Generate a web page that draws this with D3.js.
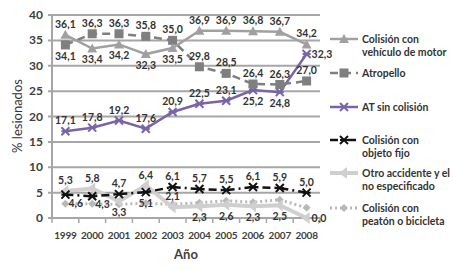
<!DOCTYPE html>
<html><head><meta charset="utf-8">
<script src="https://cdn.jsdelivr.net/npm/d3@7"></script>
<style>body{margin:0;background:#fff}svg{display:block;font-family:Lato,"Open Sans",sans-serif}</style>
</head><body><svg id="c" width="453" height="270"></svg>
<script>
const years = ["1999","2000","2001","2002","2003","2004","2005","2006","2007","2008"];
const vehiculo = [36.1,33.4,34.2,32.3,33.5,36.9,36.9,36.8,36.7,34.2];
const atropello = [34.1,36.3,36.3,35.8,35.0,29.8,28.5,26.4,26.3,27.0];
const sinColision = [17.1,17.8,19.2,17.6,20.9,22.5,23.1,25.2,24.8,32.3];
const objetoFijo = [4.6,4.3,4.7,5.1,6.1,5.7,5.5,6.1,5.9,5.0];
const otro = [5.3,5.8,3.3,6.4,2.1,2.3,2.6,2.3,2.5,0.0];
const peaton = [2.8,2.8,2.7,2.9,2.7,3.0,3.4,3.1,3.6,2.0];
const yTicks = [0,5,10,15,20,25,30,35,40];

// label placement (a=above, b=below, r=right, br=below-right)
const pos = {
  vehiculo:   ["a","b","b","b","b","a","a","a","a","a"],
  atropello:  ["b","a","a","a","a","a","a","a","a","a"],
  sinColision:["a","a","a","a","a","a","a","b","b","r"],
  objetoFijo: ["br","br","a","b","a","a","a","a","a","a"],
  otro:       ["a","a","b","a","a","b","b","b","b","r"]
};

const svg = d3.select("#c");
const X0=52, X1=320, Y0=218, Y1=15;
const x = d3.scaleBand().domain(years).range([X0,X1]);
const cx = d => x(d)+x.bandwidth()/2;
const y = d3.scaleLinear().domain([0,40]).range([Y0,Y1]);
const grid="#a6a6a6";

// gridlines
svg.append("g").selectAll("line").data(yTicks).join("line")
  .attr("x1",X0-4).attr("x2",X1).attr("y1",d=>y(d)).attr("y2",d=>y(d))
  .attr("stroke",grid).attr("stroke-width",2);
svg.append("line").attr("x1",X0).attr("x2",X0).attr("y1",Y1).attr("y2",Y0).attr("stroke",grid).attr("stroke-width",2);
// x ticks
svg.append("g").selectAll("line").data(d3.range(years.length+1)).join("line")
  .attr("x1",i=>X0+i*x.bandwidth()).attr("x2",i=>X0+i*x.bandwidth())
  .attr("y1",Y0).attr("y2",Y0+5).attr("stroke",grid).attr("stroke-width",1.5);
// y tick labels
svg.append("g").selectAll("text").data(yTicks).join("text")
  .attr("x",43).attr("y",d=>y(d)+4).attr("text-anchor","end")
  .attr("font-size",12).attr("font-weight",700).attr("fill","#404040").text(d=>d);
// x labels
svg.append("g").selectAll("text").data(years).join("text")
  .attr("x",d=>cx(d)).attr("y",239).attr("text-anchor","middle")
  .attr("font-size",10).attr("letter-spacing",-0.2).attr("font-weight",700).attr("fill","#404040").text(d=>d);
svg.append("text").attr("x",186).attr("y",259).attr("text-anchor","middle")
  .attr("font-size",13).attr("font-weight",700).attr("fill","#404040").text("Año");
svg.append("text").attr("transform","translate(22,116) rotate(-90)").attr("text-anchor","middle")
  .attr("font-size",13).attr("fill","#333").text("% lesionados");

function marker(g, type, px, py, color){
  if(type==="tri") g.append("path").attr("d",`M${px},${py-5}L${px+5},${py+4}L${px-5},${py+4}Z`).attr("fill",color);
  else if(type==="sq") g.append("rect").attr("x",px-4.5).attr("y",py-4.5).attr("width",9).attr("height",9).attr("fill",color);
  else if(type==="x"){ g.append("path").attr("d",`M${px-4},${py-4}L${px+4},${py+4}M${px+4},${py-4}L${px-4},${py+4}M${px-4},${py}L${px+4},${py}`).attr("stroke",color).attr("stroke-width",2);}
  else if(type==="arrow") g.append("path").attr("d",`M${px-5},${py}L${px+3},${py-6}L${px+3},${py+6}Z`).attr("fill",color);
  else if(type==="dia") g.append("path").attr("d",`M${px},${py-4}L${px+4},${py}L${px},${py+4}L${px-4},${py}Z`).attr("fill",color);
}

const series = [
  {key:"peaton",vals:peaton,color:"#b8b8b8",w:3,dash:"2,3",mk:"dia",name:["Colisión con","peatón o bicicleta"],ly:208},
  {key:"otro",vals:otro,color:"#cfcfcf",w:4,dash:null,mk:"arrow",name:["Otro accidente y el","no especificado"],ly:173},
  {key:"objetoFijo",vals:objetoFijo,color:"#111",w:2.5,dash:"8,4,2,4",mk:"x",name:["Colisión con","objeto fijo"],ly:140},
  {key:"sinColision",vals:sinColision,color:"#7a64a8",w:2.5,dash:null,mk:"x",name:["AT sin colisión"],ly:107},
  {key:"atropello",vals:atropello,color:"#7f7f7f",w:2.5,dash:"8,5",mk:"sq",name:["Atropello"],ly:73},
  {key:"vehiculo",vals:vehiculo,color:"#a0a0a0",w:2.5,dash:null,mk:"tri",name:["Colisión con","vehículo de motor"],ly:39}
];

const line = d3.line().x((d,i)=>cx(years[i])).y(d=>y(d));
series.forEach(s=>{
  const g = svg.append("g");
  g.append("path").attr("d",line(s.vals)).attr("fill","none").attr("stroke",s.color)
    .attr("stroke-width",s.w).attr("stroke-dasharray",s.dash);
  s.vals.forEach((v,i)=>marker(g,s.mk,cx(years[i]),y(v),s.color));
  // legend
  const lg = svg.append("g");
  lg.append("line").attr("x1",330).attr("x2",358).attr("y1",s.ly).attr("y2",s.ly)
    .attr("stroke",s.color).attr("stroke-width",s.w).attr("stroke-dasharray",s.dash);
  marker(lg,s.mk,344,s.ly,s.color);
  s.name.forEach((t,j)=>lg.append("text").attr("x",362).attr("y",s.ly+4+j*13)
    .attr("font-size",10.5).attr("font-weight",700).attr("fill","#333").text(t));
});

// data labels
const lab = {vehiculo,atropello,sinColision,objetoFijo,otro};
const fmt = v => v.toFixed(1).replace(".",",");
Object.keys(lab).forEach(k=>{
  lab[k].forEach((v,i)=>{
    const p = pos[k][i];
    let px = cx(years[i]), py = y(v);
    let dx=0, dy=0, anchor="middle";
    if(p==="a"){dy=-7;}
    else if(p==="b"){dy=15;}
    else if(p==="r"){dx=5;dy=4;anchor="start";}
    else if(p==="br"){dx=3;dy=12;anchor="start";}
    svg.append("text").attr("x",px+dx).attr("y",py+dy).attr("text-anchor",anchor)
      .attr("font-size",10.5).attr("font-weight",700).attr("fill","#333").text(fmt(v));
  });
});
</script></body></html>
